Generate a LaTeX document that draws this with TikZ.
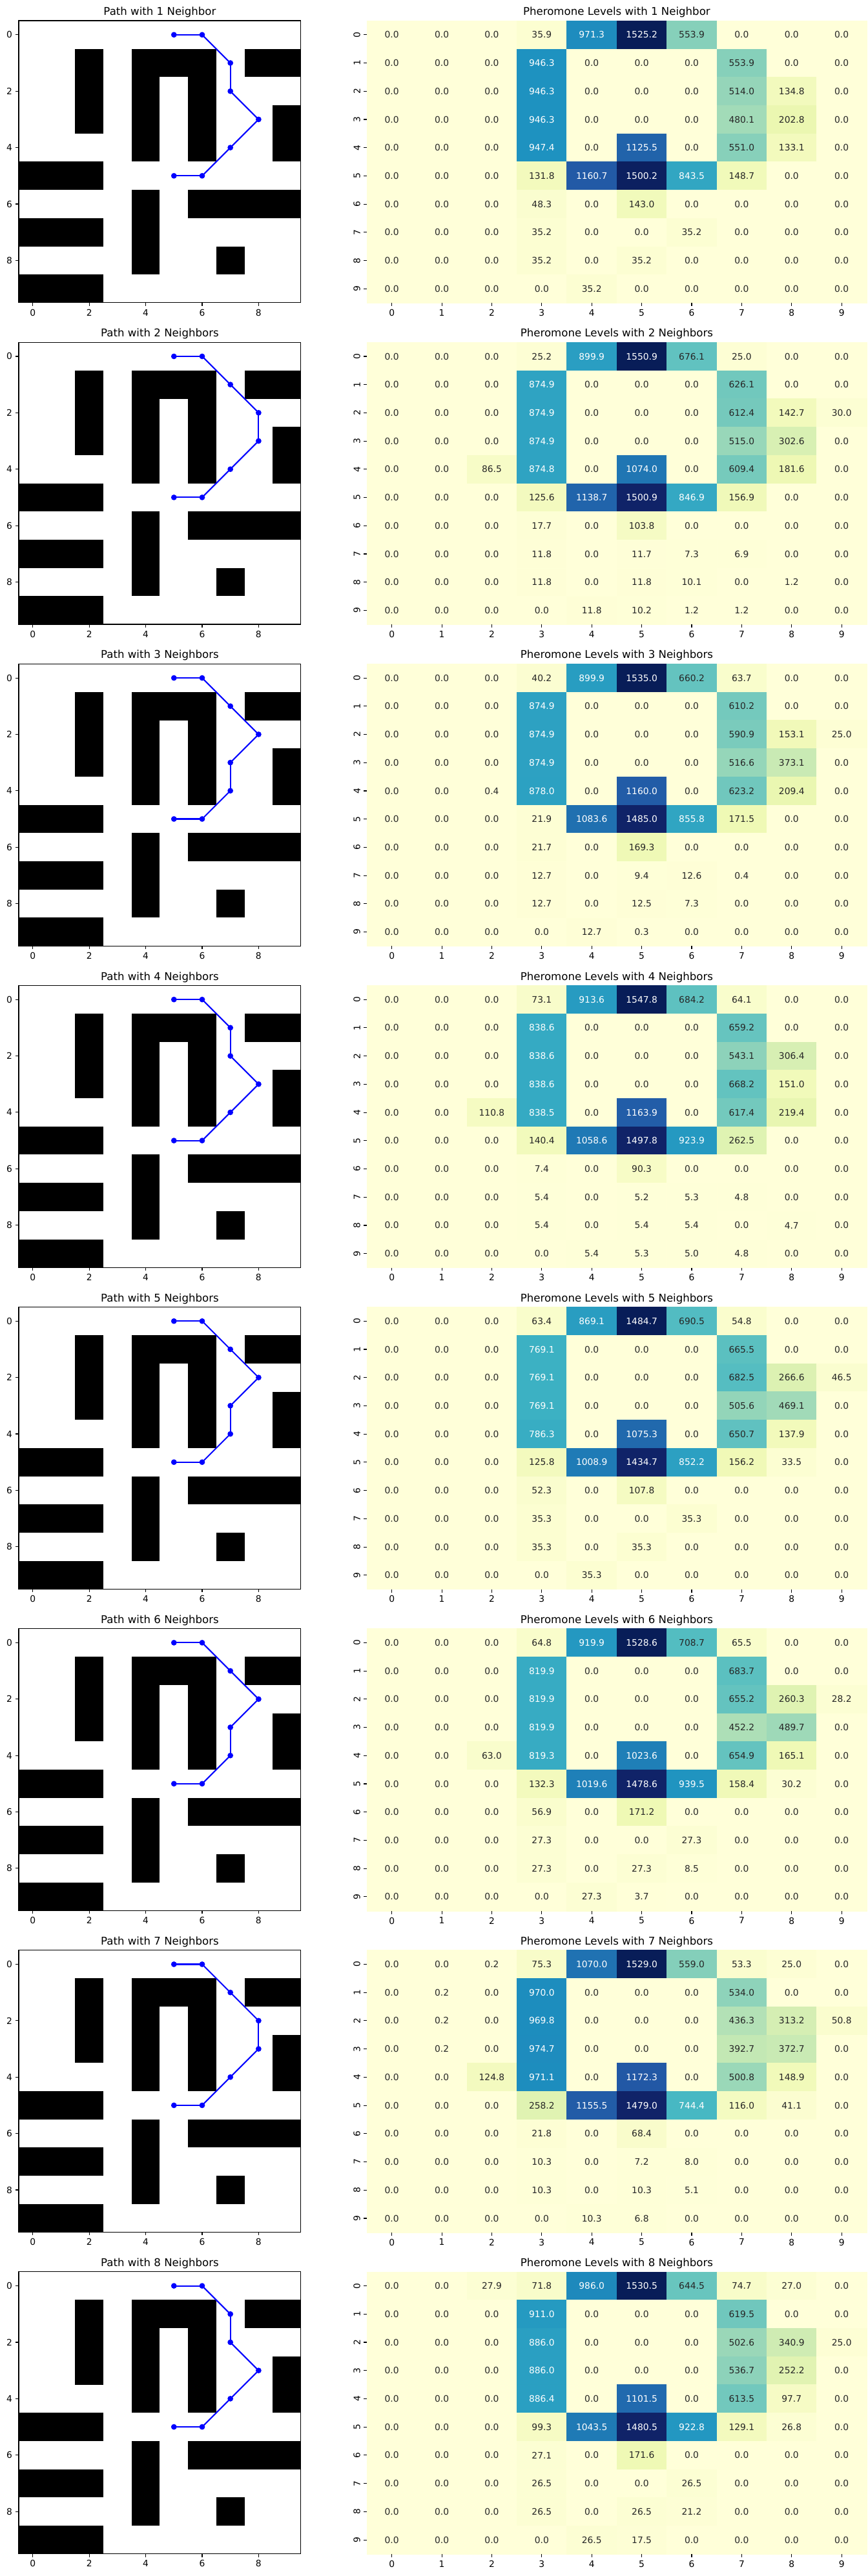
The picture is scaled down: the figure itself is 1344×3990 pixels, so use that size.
\documentclass[tikz,border=0pt]{standalone}
\usepackage{fontspec}
\setmainfont{DejaVu Sans}
\usepackage{tikz}

\definecolor{ylgnbu0}{HTML}{FFFFD9}
\definecolor{ylgnbu1}{HTML}{EDF8B1}
\definecolor{ylgnbu2}{HTML}{C7E9B4}
\definecolor{ylgnbu3}{HTML}{7FCDBB}
\definecolor{ylgnbu4}{HTML}{41B6C4}
\definecolor{ylgnbu5}{HTML}{1D91C0}
\definecolor{ylgnbu6}{HTML}{225EA8}
\definecolor{ylgnbu7}{HTML}{253494}
\definecolor{ylgnbu8}{HTML}{081D58}
\definecolor{annotdark}{HTML}{262626}
\definecolor{pathblue}{HTML}{0000FF}

\tikzset{
  wall/.style={fill=black},
  frame/.style={draw=black, line width=0.63pt},
  tick/.style={draw=black, line width=0.63pt},
  ticklabel/.style={font=\fontsize{7.87}{9}\selectfont, inner sep=0pt},
  paneltitle/.style={font=\fontsize{9.45}{11}\selectfont, inner sep=0pt, anchor=base},
  annot/.style={font=\fontsize{7.87}{9}\selectfont, inner sep=0pt},
  waypoint/.style={circle, fill=pathblue, inner sep=0pt, minimum size=5pt},
  pathline/.style={draw=pathblue, line width=1.18pt}
}

% maze with the path: #1 row, #2 top (px), #3 title, #4 path cells x/y
\def\mazepanel#1#2#3#4{%
  \begin{scope}[shift={(50.85,#2+21.85)}, x=0.874cm, y=-0.874cm]
    \fill[white] (-0.5,-0.5) rectangle (9.5,9.5);
    \foreach \xa/\ya/\xb/\yb in {1.5/0.5/2.5/3.5, 3.5/0.5/6.5/1.5, 3.5/0.5/4.5/4.5,
        5.5/0.5/6.5/4.5, 7.5/0.5/9.5/1.5, 8.5/2.5/9.5/4.5, -0.5/4.5/2.5/5.5,
        3.5/5.5/4.5/8.5, 5.5/5.5/9.5/6.5, -0.5/6.5/2.5/7.5, 6.5/7.5/7.5/8.5,
        -0.5/8.5/2.5/9.5}
      \fill[wall] (\xa,\ya) rectangle (\xb,\yb);
    \draw[frame] (-0.5,-0.5) rectangle (9.5,9.5);
    \foreach \t in {0,2,4,6,8} {
      \draw[tick] (\t,9.5) -- ++(0,0.111);
      \node[ticklabel, anchor=north] (mx#1-\t) at (\t,9.722) {\t};
      \draw[tick] (-0.5,\t) -- ++(-0.111,0);
      \node[ticklabel, anchor=east] (my#1-\t) at (-0.722,\t) {\t};
    }
    \node[paneltitle] (mazetitle#1) at (4.5,-0.69) {#3};
    \foreach \px/\py [count=\i] in {#4}
      \node[waypoint] (wp#1-\i) at (\px,\py) {};
    \foreach \i [remember=\i as \j (initially 1)] in {2,...,8}
      \draw[pathline] (wp#1-\j.center) -- (wp#1-\i.center);
  \end{scope}}

% heatmap: #1 row, #2 top (px), #3 title, #4 largest value, #5 rows of values
\def\pheropanel#1#2#3#4#5{%
  \begin{scope}[shift={(568,#2)}, x=1.548cm, y=-0.8746cm]
    \foreach \rowvals [count=\rw from 0] in {#5} {
      \foreach \v [count=\cl from 0] in \rowvals {
        \pgfmathsetmacro{\tval}{min(\v/#4*8,7.9999)}
        \pgfmathtruncatemacro{\ci}{floor(\tval)}
        \pgfmathtruncatemacro{\cj}{\ci+1}
        \pgfmathsetmacro{\cp}{100*(1+\ci-\tval)}
        \pgfmathtruncatemacro{\whitetext}{\tval>3.8}
        \colorlet{cellfill}{ylgnbu\ci!\cp!ylgnbu\cj}
        \ifnum\whitetext=1 \colorlet{celltext}{white}\else\colorlet{celltext}{annotdark}\fi
        \fill[cellfill, draw=cellfill, line width=0.2pt] (\cl,\rw) rectangle ++(1,1);
        \node[annot, text=celltext] (cell#1-\rw-\cl) at (\cl+0.5,\rw+0.5) {\v};
      }
    }
    \foreach \t in {0,...,9} {
      \draw[tick] (\t+0.5,10) -- ++(0,0.111);
      \node[ticklabel, anchor=north] (hx#1-\t) at (\t+0.5,10.222) {\t};
      \draw[tick] (0,\t+0.5) -- ++(-0.0628,0);
      \node[ticklabel, rotate=90, anchor=south] (hy#1-\t) at (-0.1256,\t+0.5) {\t};
    }
    \node[paneltitle] (heattitle#1) at (5,-0.19) {#3};
  \end{scope}}

\begin{document}
\begin{tikzpicture}[x=0.02cm, y=-0.02cm]
  \useasboundingbox (0,0) rectangle (1344,3990);
  \fill[white] (0,0) rectangle (1344,3990);

  %%%%% 1 NEIGHBOR %%%%%
  \mazepanel{1}{32}{Path with 1 Neighbor}{5/0,6/0,7/1,7/2,8/3,7/4,6/5,5/5}
  \pheropanel{1}{32}{Pheromone Levels with 1 Neighbor}{1525.2}{
    {0.0,0.0,0.0,35.9,971.3,1525.2,553.9,0.0,0.0,0.0},
    {0.0,0.0,0.0,946.3,0.0,0.0,0.0,553.9,0.0,0.0},
    {0.0,0.0,0.0,946.3,0.0,0.0,0.0,514.0,134.8,0.0},
    {0.0,0.0,0.0,946.3,0.0,0.0,0.0,480.1,202.8,0.0},
    {0.0,0.0,0.0,947.4,0.0,1125.5,0.0,551.0,133.1,0.0},
    {0.0,0.0,0.0,131.8,1160.7,1500.2,843.5,148.7,0.0,0.0},
    {0.0,0.0,0.0,48.3,0.0,143.0,0.0,0.0,0.0,0.0},
    {0.0,0.0,0.0,35.2,0.0,0.0,35.2,0.0,0.0,0.0},
    {0.0,0.0,0.0,35.2,0.0,35.2,0.0,0.0,0.0,0.0},
    {0.0,0.0,0.0,0.0,35.2,0.0,0.0,0.0,0.0,0.0}}

  %%%%% 2 NEIGHBORS %%%%%
  \mazepanel{2}{530.1}{Path with 2 Neighbors}{5/0,6/0,7/1,8/2,8/3,7/4,6/5,5/5}
  \pheropanel{2}{530.1}{Pheromone Levels with 2 Neighbors}{1550.9}{
    {0.0,0.0,0.0,25.2,899.9,1550.9,676.1,25.0,0.0,0.0},
    {0.0,0.0,0.0,874.9,0.0,0.0,0.0,626.1,0.0,0.0},
    {0.0,0.0,0.0,874.9,0.0,0.0,0.0,612.4,142.7,30.0},
    {0.0,0.0,0.0,874.9,0.0,0.0,0.0,515.0,302.6,0.0},
    {0.0,0.0,86.5,874.8,0.0,1074.0,0.0,609.4,181.6,0.0},
    {0.0,0.0,0.0,125.6,1138.7,1500.9,846.9,156.9,0.0,0.0},
    {0.0,0.0,0.0,17.7,0.0,103.8,0.0,0.0,0.0,0.0},
    {0.0,0.0,0.0,11.8,0.0,11.7,7.3,6.9,0.0,0.0},
    {0.0,0.0,0.0,11.8,0.0,11.8,10.1,0.0,1.2,0.0},
    {0.0,0.0,0.0,0.0,11.8,10.2,1.2,1.2,0.0,0.0}}

  %%%%% 3 NEIGHBORS %%%%%
  \mazepanel{3}{1028.2}{Path with 3 Neighbors}{5/0,6/0,7/1,8/2,7/3,7/4,6/5,5/5}
  \pheropanel{3}{1028.2}{Pheromone Levels with 3 Neighbors}{1535.0}{
    {0.0,0.0,0.0,40.2,899.9,1535.0,660.2,63.7,0.0,0.0},
    {0.0,0.0,0.0,874.9,0.0,0.0,0.0,610.2,0.0,0.0},
    {0.0,0.0,0.0,874.9,0.0,0.0,0.0,590.9,153.1,25.0},
    {0.0,0.0,0.0,874.9,0.0,0.0,0.0,516.6,373.1,0.0},
    {0.0,0.0,0.4,878.0,0.0,1160.0,0.0,623.2,209.4,0.0},
    {0.0,0.0,0.0,21.9,1083.6,1485.0,855.8,171.5,0.0,0.0},
    {0.0,0.0,0.0,21.7,0.0,169.3,0.0,0.0,0.0,0.0},
    {0.0,0.0,0.0,12.7,0.0,9.4,12.6,0.4,0.0,0.0},
    {0.0,0.0,0.0,12.7,0.0,12.5,7.3,0.0,0.0,0.0},
    {0.0,0.0,0.0,0.0,12.7,0.3,0.0,0.0,0.0,0.0}}

  %%%%% 4 NEIGHBORS %%%%%
  \mazepanel{4}{1526.3}{Path with 4 Neighbors}{5/0,6/0,7/1,7/2,8/3,7/4,6/5,5/5}
  \pheropanel{4}{1526.3}{Pheromone Levels with 4 Neighbors}{1547.8}{
    {0.0,0.0,0.0,73.1,913.6,1547.8,684.2,64.1,0.0,0.0},
    {0.0,0.0,0.0,838.6,0.0,0.0,0.0,659.2,0.0,0.0},
    {0.0,0.0,0.0,838.6,0.0,0.0,0.0,543.1,306.4,0.0},
    {0.0,0.0,0.0,838.6,0.0,0.0,0.0,668.2,151.0,0.0},
    {0.0,0.0,110.8,838.5,0.0,1163.9,0.0,617.4,219.4,0.0},
    {0.0,0.0,0.0,140.4,1058.6,1497.8,923.9,262.5,0.0,0.0},
    {0.0,0.0,0.0,7.4,0.0,90.3,0.0,0.0,0.0,0.0},
    {0.0,0.0,0.0,5.4,0.0,5.2,5.3,4.8,0.0,0.0},
    {0.0,0.0,0.0,5.4,0.0,5.4,5.4,0.0,4.7,0.0},
    {0.0,0.0,0.0,0.0,5.4,5.3,5.0,4.8,0.0,0.0}}

  %%%%% 5 NEIGHBORS %%%%%
  \mazepanel{5}{2024.4}{Path with 5 Neighbors}{5/0,6/0,7/1,8/2,7/3,7/4,6/5,5/5}
  \pheropanel{5}{2024.4}{Pheromone Levels with 5 Neighbors}{1484.7}{
    {0.0,0.0,0.0,63.4,869.1,1484.7,690.5,54.8,0.0,0.0},
    {0.0,0.0,0.0,769.1,0.0,0.0,0.0,665.5,0.0,0.0},
    {0.0,0.0,0.0,769.1,0.0,0.0,0.0,682.5,266.6,46.5},
    {0.0,0.0,0.0,769.1,0.0,0.0,0.0,505.6,469.1,0.0},
    {0.0,0.0,0.0,786.3,0.0,1075.3,0.0,650.7,137.9,0.0},
    {0.0,0.0,0.0,125.8,1008.9,1434.7,852.2,156.2,33.5,0.0},
    {0.0,0.0,0.0,52.3,0.0,107.8,0.0,0.0,0.0,0.0},
    {0.0,0.0,0.0,35.3,0.0,0.0,35.3,0.0,0.0,0.0},
    {0.0,0.0,0.0,35.3,0.0,35.3,0.0,0.0,0.0,0.0},
    {0.0,0.0,0.0,0.0,35.3,0.0,0.0,0.0,0.0,0.0}}

  %%%%% 6 NEIGHBORS %%%%%
  \mazepanel{6}{2522.5}{Path with 6 Neighbors}{5/0,6/0,7/1,8/2,7/3,7/4,6/5,5/5}
  \pheropanel{6}{2522.5}{Pheromone Levels with 6 Neighbors}{1528.6}{
    {0.0,0.0,0.0,64.8,919.9,1528.6,708.7,65.5,0.0,0.0},
    {0.0,0.0,0.0,819.9,0.0,0.0,0.0,683.7,0.0,0.0},
    {0.0,0.0,0.0,819.9,0.0,0.0,0.0,655.2,260.3,28.2},
    {0.0,0.0,0.0,819.9,0.0,0.0,0.0,452.2,489.7,0.0},
    {0.0,0.0,63.0,819.3,0.0,1023.6,0.0,654.9,165.1,0.0},
    {0.0,0.0,0.0,132.3,1019.6,1478.6,939.5,158.4,30.2,0.0},
    {0.0,0.0,0.0,56.9,0.0,171.2,0.0,0.0,0.0,0.0},
    {0.0,0.0,0.0,27.3,0.0,0.0,27.3,0.0,0.0,0.0},
    {0.0,0.0,0.0,27.3,0.0,27.3,8.5,0.0,0.0,0.0},
    {0.0,0.0,0.0,0.0,27.3,3.7,0.0,0.0,0.0,0.0}}

  %%%%% 7 NEIGHBORS %%%%%
  \mazepanel{7}{3020.6}{Path with 7 Neighbors}{5/0,6/0,7/1,8/2,8/3,7/4,6/5,5/5}
  \pheropanel{7}{3020.6}{Pheromone Levels with 7 Neighbors}{1529.0}{
    {0.0,0.0,0.2,75.3,1070.0,1529.0,559.0,53.3,25.0,0.0},
    {0.0,0.2,0.0,970.0,0.0,0.0,0.0,534.0,0.0,0.0},
    {0.0,0.2,0.0,969.8,0.0,0.0,0.0,436.3,313.2,50.8},
    {0.0,0.2,0.0,974.7,0.0,0.0,0.0,392.7,372.7,0.0},
    {0.0,0.0,124.8,971.1,0.0,1172.3,0.0,500.8,148.9,0.0},
    {0.0,0.0,0.0,258.2,1155.5,1479.0,744.4,116.0,41.1,0.0},
    {0.0,0.0,0.0,21.8,0.0,68.4,0.0,0.0,0.0,0.0},
    {0.0,0.0,0.0,10.3,0.0,7.2,8.0,0.0,0.0,0.0},
    {0.0,0.0,0.0,10.3,0.0,10.3,5.1,0.0,0.0,0.0},
    {0.0,0.0,0.0,0.0,10.3,6.8,0.0,0.0,0.0,0.0}}

  %%%%% 8 NEIGHBORS %%%%%
  \mazepanel{8}{3518.7}{Path with 8 Neighbors}{5/0,6/0,7/1,7/2,8/3,7/4,6/5,5/5}
  \pheropanel{8}{3518.7}{Pheromone Levels with 8 Neighbors}{1530.5}{
    {0.0,0.0,27.9,71.8,986.0,1530.5,644.5,74.7,27.0,0.0},
    {0.0,0.0,0.0,911.0,0.0,0.0,0.0,619.5,0.0,0.0},
    {0.0,0.0,0.0,886.0,0.0,0.0,0.0,502.6,340.9,25.0},
    {0.0,0.0,0.0,886.0,0.0,0.0,0.0,536.7,252.2,0.0},
    {0.0,0.0,0.0,886.4,0.0,1101.5,0.0,613.5,97.7,0.0},
    {0.0,0.0,0.0,99.3,1043.5,1480.5,922.8,129.1,26.8,0.0},
    {0.0,0.0,0.0,27.1,0.0,171.6,0.0,0.0,0.0,0.0},
    {0.0,0.0,0.0,26.5,0.0,0.0,26.5,0.0,0.0,0.0},
    {0.0,0.0,0.0,26.5,0.0,26.5,21.2,0.0,0.0,0.0},
    {0.0,0.0,0.0,0.0,26.5,17.5,0.0,0.0,0.0,0.0}}
\end{tikzpicture}
\end{document}
